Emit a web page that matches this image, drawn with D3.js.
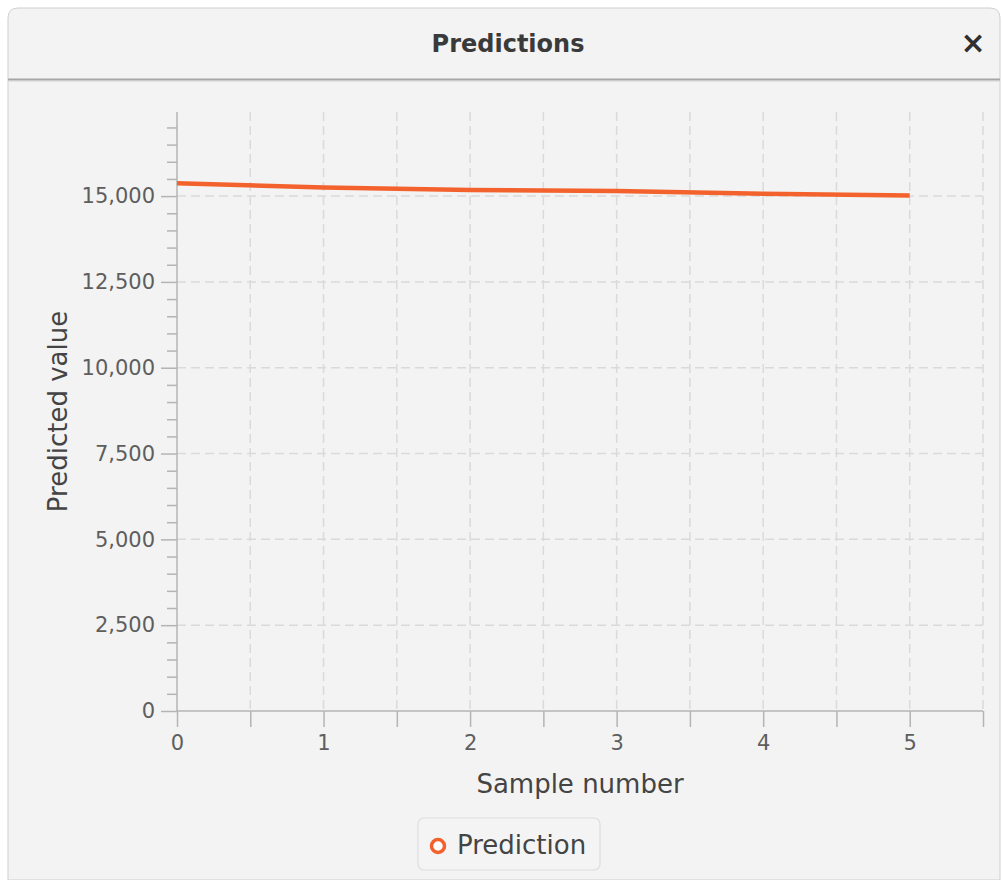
<!DOCTYPE html>
<html>
<head>
<meta charset="utf-8">
<script src="https://cdn.jsdelivr.net/npm/d3@7"></script>
<style>
  body { margin: 0; background: #ffffff; }
  svg { display: block; font-family: "DejaVu Sans", sans-serif; }
</style>
</head>
<body>
<div id="chart"></div>
<script>
// values
const sampleNumbers = [0, 1, 2, 3, 4, 5];
const predictions = [15375, 15250, 15180, 15145, 15065, 15020];
const yMajorTicks = [0, 2500, 5000, 7500, 10000, 12500, 15000];
const xTickValues = [0, 0.5, 1, 1.5, 2, 2.5, 3, 3.5, 4, 4.5, 5, 5.5];
const seriesName = "Prediction";

const config = {
  width: 1002,
  height: 880,
  plot: { left: 177, right: 983, top: 112, bottom: 711 },
  xDomain: [0, 5.5],
  yDomain: [0, 17450],
  lineColor: "#f3622d",
  axisColor: "#b4b4b4",
  gridColor: "#dadada",
  tickText: "#5e5e5e",
  labelText: "#444444"
};

const svg = d3.select("#chart").append("svg")
  .attr("width", config.width)
  .attr("height", config.height);

// window frame
svg.append("path")
  .attr("d", `M8,880 L8,18 Q8,8 18,8 L990,8 Q1000,8 1000,18 L1000,880 Z`)
  .attr("fill", "#f3f3f3")
  .attr("stroke", "#cfcfcf")
  .attr("stroke-width", 1);

svg.append("line")
  .attr("x1", 8).attr("x2", 1000).attr("y1", 79.5).attr("y2", 79.5)
  .attr("stroke", "#a6a6a6").attr("stroke-width", 2);
svg.append("line")
  .attr("x1", 8).attr("x2", 1000).attr("y1", 81.5).attr("y2", 81.5)
  .attr("stroke", "#e2e2e2").attr("stroke-width", 1);

svg.append("text")
  .attr("x", 508).attr("y", 52)
  .attr("text-anchor", "middle")
  .attr("font-size", 24)
  .attr("font-weight", 600)
  .attr("fill", "#3a3a3a")
  .text("Predictions");

svg.append("text")
  .attr("x", 973).attr("y", 53)
  .attr("text-anchor", "middle")
  .attr("font-size", 30)
  .attr("font-weight", "bold")
  .attr("fill", "#2f2f2f")
  .text("×");

const x = d3.scaleLinear(config.xDomain, [config.plot.left, config.plot.right]);
const y = d3.scaleLinear(config.yDomain, [config.plot.bottom, config.plot.top]);

// grid
const grid = svg.append("g")
  .attr("stroke", config.gridColor)
  .attr("stroke-width", 1.5)
  .attr("stroke-dasharray", "9,5");

grid.selectAll(".hgrid")
  .data(yMajorTicks.filter(d => d > 0))
  .join("line")
  .attr("x1", config.plot.left).attr("x2", config.plot.right)
  .attr("y1", d => y(d)).attr("y2", d => y(d));

grid.selectAll(".vgrid")
  .data(xTickValues.filter(d => d > 0))
  .join("line")
  .attr("x1", d => x(d)).attr("x2", d => x(d))
  .attr("y1", config.plot.top).attr("y2", config.plot.bottom);

// y axis
const yMinor = d3.range(500, config.yDomain[1], 500).filter(d => d % 2500 !== 0);

svg.append("g")
  .attr("transform", `translate(${config.plot.left},0)`)
  .call(d3.axisLeft(y).tickValues(yMinor).tickSize(10).tickFormat(""))
  .call(g => g.select(".domain").remove())
  .call(g => g.selectAll(".tick line").attr("stroke", config.axisColor).attr("stroke-width", 1.5));

svg.append("g")
  .attr("transform", `translate(${config.plot.left},0)`)
  .call(d3.axisLeft(y).tickValues(yMajorTicks).tickSize(16).tickPadding(6).tickFormat(d3.format(",")))
  .call(g => g.select(".domain").remove())
  .call(g => g.selectAll(".tick line").attr("stroke", config.axisColor).attr("stroke-width", 1.5))
  .call(g => g.selectAll(".tick text")
    .attr("font-family", "DejaVu Sans")
    .attr("font-size", 21)
    .attr("fill", config.tickText));

svg.append("line")
  .attr("x1", config.plot.left).attr("x2", config.plot.left)
  .attr("y1", config.plot.top).attr("y2", config.plot.bottom)
  .attr("stroke", config.axisColor).attr("stroke-width", 1.5);

// x axis
svg.append("g")
  .attr("transform", `translate(0,${config.plot.bottom})`)
  .call(d3.axisBottom(x).tickValues(xTickValues).tickSize(16).tickPadding(8)
    .tickFormat(d => Number.isInteger(d) ? d : ""))
  .call(g => g.select(".domain").remove())
  .call(g => g.selectAll(".tick line").attr("stroke", config.axisColor).attr("stroke-width", 1.5))
  .call(g => g.selectAll(".tick text")
    .attr("font-family", "DejaVu Sans")
    .attr("font-size", 21)
    .attr("fill", config.tickText));

svg.append("line")
  .attr("x1", config.plot.left).attr("x2", config.plot.right)
  .attr("y1", config.plot.bottom).attr("y2", config.plot.bottom)
  .attr("stroke", config.axisColor).attr("stroke-width", 1.5);

// axis titles
svg.append("text")
  .attr("x", (config.plot.left + config.plot.right) / 2)
  .attr("y", 793)
  .attr("text-anchor", "middle")
  .attr("font-size", 26)
  .attr("fill", config.labelText)
  .text("Sample number");

svg.append("text")
  .attr("transform", `translate(67,${(config.plot.top + config.plot.bottom) / 2}) rotate(-90)`)
  .attr("text-anchor", "middle")
  .attr("font-size", 26)
  .attr("fill", config.labelText)
  .text("Predicted value");

// series line
const line = d3.line()
  .x((d, i) => x(sampleNumbers[i]))
  .y(d => y(d));

svg.append("path")
  .datum(predictions)
  .attr("fill", "none")
  .attr("stroke", config.lineColor)
  .attr("stroke-width", 4.5)
  .attr("stroke-linejoin", "round")
  .attr("d", line);

// legend
const legend = svg.append("g").attr("transform", "translate(418,818)");
legend.append("rect")
  .attr("width", 182).attr("height", 52).attr("rx", 6)
  .attr("fill", "#f4f4f4")
  .attr("stroke", "#dedede")
  .attr("stroke-width", 1.2);
legend.append("circle")
  .attr("cx", 20).attr("cy", 28).attr("r", 6.5)
  .attr("fill", "#ffffff")
  .attr("stroke", config.lineColor)
  .attr("stroke-width", 3.5);
legend.append("text")
  .attr("x", 39).attr("y", 36)
  .attr("font-size", 26)
  .attr("fill", config.labelText)
  .text(seriesName);
</script>
</body>
</html>
